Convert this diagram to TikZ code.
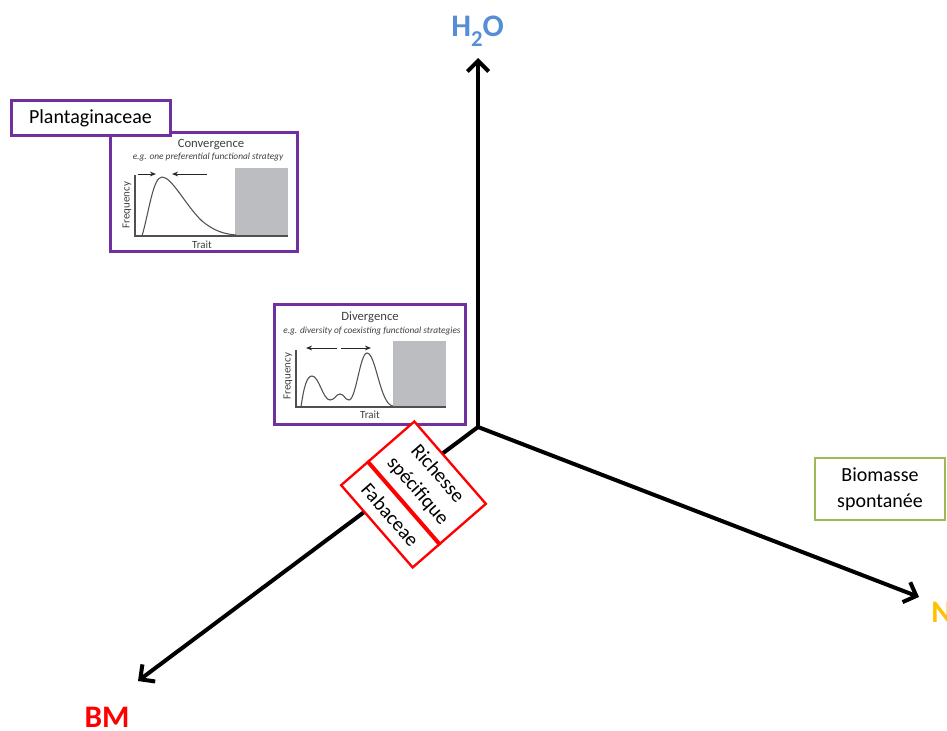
\documentclass[tikz,border=0pt]{standalone}
\usepackage{fontspec}
\setmainfont{Carlito}
\usetikzlibrary{arrows.meta,calc}
\definecolor{purp}{HTML}{7030A0}
\definecolor{h2oblue}{HTML}{558ED5}
\definecolor{nyellow}{HTML}{FFC000}
\definecolor{bgreen}{HTML}{9BBB59}
\definecolor{ggray}{HTML}{BCBDC0}
\definecolor{gtext}{HTML}{404040}
\definecolor{gline}{HTML}{505050}
\tikzset{
  axisline/.style={line width=3pt,-{Straight Barb[length=8pt,width=16pt]}},
  bigtext/.style={font=\fontsize{15}{19.5}\selectfont},
  axislabel/.style={font=\fontsize{23.5}{26}\selectfont\bfseries,anchor=base,inner sep=0pt},
  purpbox/.style={draw=purp,line width=2.25pt,fill=white,inner sep=0pt},
  gtitle/.style={font=\fontsize{9.5}{10}\selectfont,text=gtext,inner sep=0pt},
  gsub/.style={font=\fontsize{7}{7.5}\selectfont\itshape,text=gtext,inner sep=0pt},
  glab/.style={font=\fontsize{8.2}{9}\selectfont,text=gtext,inner sep=0pt},
  gaxis/.style={draw=gline,line width=0.9pt},
  gcurve/.style={draw=gline,line width=0.8pt},
  garrow/.style={draw=black!85,line width=0.7pt,-{Stealth[length=4.5pt,width=3.5pt]}},
}
\begin{document}
\begin{tikzpicture}[x=0.75pt,y=-0.75pt]
\useasboundingbox (0,0) rectangle (947,731);

% axes
\coordinate (O) at (478,427);
\coordinate (tipH) at (478,58);
\coordinate (tipN) at (919,597);
\coordinate (tipB) at (138,681);
\draw[axisline] (O) -- (tipH);
\draw[axisline] (O) -- (tipN);
\draw[axisline] (O) -- (tipB);

% axis labels
\node[axislabel,text=h2oblue] (lH) at (477.5,37) {H\raisebox{-0.3em}{\fontsize{17}{17}\selectfont 2}O};
\node[axislabel,text=nyellow,anchor=base west] (lN) at (931,622) {N};
\node[axislabel,text=red] (lB) at (107,727) {BM};

% Convergence panel
\node[purpbox,minimum width=140.25pt,minimum height=89.25pt] (conv) at (203.5,192.5) {};
\fill[ggray] (235,168) rectangle (288,236);
\draw[gaxis] (135,175) -- (135,236) -- (288,236);
\draw[gcurve] (142,236) .. controls (149,212) and (153,177) .. (162,177)
  .. controls (172,177) and (186,206) .. (202,221)
  .. controls (214,231) and (224,234) .. (236,235);
\draw[garrow] (138,174) -- (156,174);
\draw[garrow] (207,174) -- (172,174);
\node[gtitle] (convT) at (211,144) {Convergence};
\node[gsub] (convS) at (208,157) {e.g. one preferential functional strategy};
\node[glab,rotate=90] (convF) at (127,205) {Frequency};
\node[glab] (convX) at (202,245) {Trait};

% Plantaginaceae label
\node[purpbox,bigtext,minimum width=119.25pt,minimum height=26.25pt] (plant) at (90.5,118.5) {Plantaginaceae};

% Divergence panel
\node[purpbox,minimum width=143.25pt,minimum height=89.25pt] (div) at (369.5,364.5) {};
\fill[ggray] (393,341) rectangle (446,407);
\draw[gaxis] (296,350) -- (296,407) -- (446,407);
\draw[gcurve] (301,407) .. controls (304,386) and (307,376) .. (312,376)
  .. controls (319,376) and (323,400) .. (330,400)
  .. controls (335,400) and (336,394) .. (340,394)
  .. controls (344,394) and (345,400) .. (349,400)
  .. controls (356,400) and (360,353) .. (367,353)
  .. controls (376,353) and (380,405) .. (393,406);
\draw[garrow] (337,348) -- (306,348);
\draw[garrow] (341,348) -- (371,348);
\node[gtitle] (divT) at (370,317) {Divergence};
\node[gsub] (divS) at (372,331) {e.g. diversity of coexisting functional strategies};
\node[glab,rotate=90] (divF) at (288,376) {Frequency};
\node[glab] (divX) at (370,415) {Trait};

% red rotated box
\node[draw=red,fill=white,line width=1.75pt,rotate=-49,minimum width=81.75pt,minimum height=72.75pt,inner sep=0pt] (rb) at (413.5,494.5) {};
\draw[red,line width=3pt] ($(rb.north west)!0.63!(rb.south west)$) -- ($(rb.north east)!0.63!(rb.south east)$);
\node[bigtext,rotate=-49,align=center,inner sep=0pt] (rich) at ($(rb.north)!0.315!(rb.south)$) {Richesse\\spécifique};
\node[bigtext,rotate=-49,inner sep=0pt] (faba) at ($(rb.north)!0.81!(rb.south)$) {Fabaceae};

% Biomasse box
\node[draw=bgreen,line width=1.6pt,bigtext,align=center,minimum width=97.5pt,minimum height=46.5pt,inner sep=0pt] (bio) at (880,489) {Biomasse\\spontanée};
\end{tikzpicture}
\end{document}
